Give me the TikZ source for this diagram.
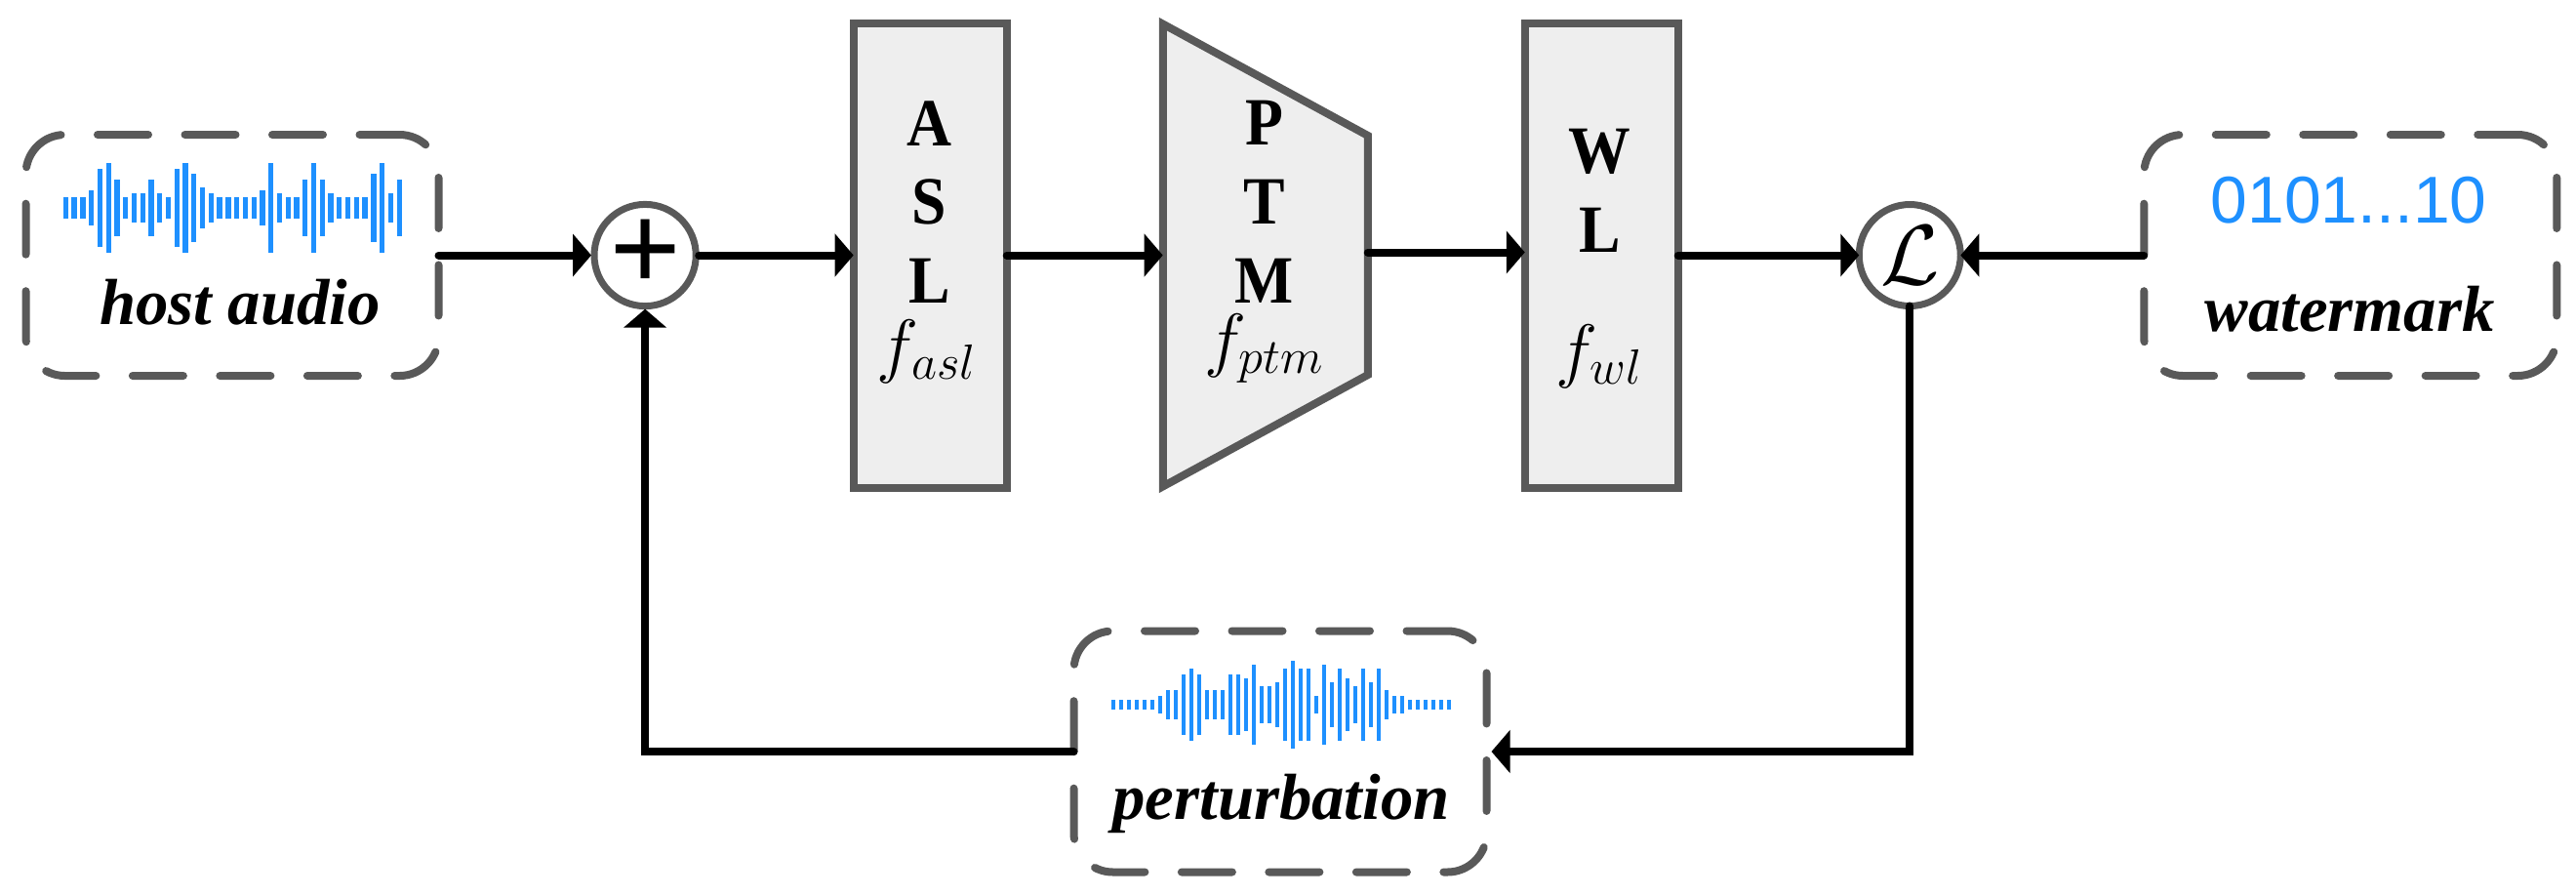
\documentclass[tikz,border=0pt]{standalone}
\usepackage{fontspec}
\setmainfont{Liberation Serif}
\newfontfamily\bitsfont{Liberation Sans}
\newfontfamily\blockfont{Liberation Serif}[FakeStretch=0.92]
\usepackage{tikz}
\usetikzlibrary{shapes.geometric, arrows.meta, positioning}
\definecolor{edgegray}{HTML}{595959}
\definecolor{blockgray}{HTML}{EEEEEE}
\definecolor{wavecol}{HTML}{1E90FF}
\DeclareMathSizes{21}{21}{15.5}{12}
\tikzstyle{dashbox} = [rectangle, rounded corners=0.40cm, draw=edgegray, line width=0.08cm, line cap=round, dash pattern=on 0.52cm off 0.375cm, outer sep=0, minimum width=4.23cm, minimum height=2.47cm]
\tikzstyle{block} = [rectangle, draw=edgegray, fill=blockgray, line width=0.08cm, outer sep=0, minimum width=1.57cm, minimum height=4.76cm]
\tikzstyle{funnel} = [trapezium, trapezium stretches=true, shape border rotate=270, trapezium left angle=65, trapezium right angle=65, draw=edgegray, fill=blockgray, line width=0.08cm, outer sep=0, minimum width=4.74cm, minimum height=2.1cm]
\tikzstyle{joint} = [circle, draw=edgegray, fill=white, line width=0.07cm, inner sep=0, minimum size=1.04cm]
\tikzstyle{arrow} = [line width=0.08cm, line cap=round, black, -{Triangle[length=0.19cm,width=0.43cm]}]
\tikzstyle{letters} = [align=center, inner sep=0, font=\fontsize{19.7}{23}\selectfont\blockfont\bfseries]
\tikzstyle{funcname} = [anchor=base, inner sep=0, font=\fontsize{21}{24}\selectfont]
\tikzstyle{tag} = [anchor=base, inner sep=0, font=\fontsize{19}{22}\selectfont\bfseries\itshape]
\tikzstyle{wavebar} = [fill=wavecol]
\newcommand{\wavebars}[5]{%
  \begin{scope}[x=0.01cm,y=0.01cm]
    \foreach \h [count=\n] in {#5}
      \fill[wavebar] ({#1+(\n-1)*#3-#4/2},{#2-\h}) rectangle ++(#4,{2*\h});
  \end{scope}}

\begin{document}
\begin{tikzpicture}
    \useasboundingbox (0,0) rectangle (26.4,-9.17);
    % Nodes
    \node (host) [dashbox, dash phase=0.11cm] at (2.38,-2.615) {};
    \node (add) [joint, outer sep=0.03cm, right=1.565cm of host, font=\fontsize{37}{37}\selectfont\bfseries] {+};
    \node (asl) [block, right=1.585cm of add] {};
    \node (ptm) [funnel, right=1.6cm of asl] {};
    \node (wl) [block, right=1.61cm of ptm] {};
    \node (loss) [joint, outer sep=0, right=1.855cm of wl, font=\fontsize{24}{24}\selectfont] {$\mathcal{L}$};
    \node (mark) [dashbox, dash phase=0.11cm, right=1.88cm of loss] {};
    \node (pert) [dashbox, dash phase=0.10cm] at (13.12,-7.70) {};

    % Labels
    \node (asltext) [letters] at (9.525,-2.07) {A\\S\\L};
    \node (aslfunc) [funcname] at (9.50,-3.78) {$f_{asl}$};
    \node (ptmtext) [letters] at (12.96,-2.07) {P\\T\\M};
    \node (ptmfunc) [funcname] at (12.96,-3.72) {$f_{ptm}$};
    \node (wltext) [letters] at (16.395,-1.955) {W\\L};
    \node (wlfunc) [funcname] at (16.395,-3.83) {$f_{wl}$};
    \node (hosttext) [tag] at (2.46,-3.32) {host audio};
    \node (marktext) [tag] at (24.08,-3.39) {watermark};
    \node (perttext) [tag] at (13.13,-8.39) {perturbation};
    \node (bits) [anchor=base, inner sep=0, text=wavecol, font=\fontsize{19.3}{22}\selectfont\bitsfont] at (24.07,-2.28) {0101...10};

    % Waveforms
    \wavebars{67.4}{-213}{8.77}{5.3}{11,11,11,18,40,46,29,11,15,15,29,15,11,40,46,35,21,15,11,11,11,11,11,18,46,15,11,11,29,46,29,15,11,11,11,11,35,46,15,29}
    \wavebars{1142}{-722}{8}{4}{5,5,5,5,5,5,9,15,15,31,37,31,15,15,15,31,31,27,41,19,19,23,37,45,37,37,9,41,23,37,27,19,37,23,37,15,9,9,5,5,5,5,5,5}

    % Arrows
    \draw [arrow] (host) -- (add);
    \draw [arrow] (add) -- (asl);
    \draw [arrow] (asl) -- (ptm);
    \draw [arrow] ([yshift=0.03cm]ptm.east) -- ([yshift=0.03cm]wl.west);
    \draw [arrow] (wl) -- (loss);
    \draw [arrow] (mark) -- (loss);
    \draw [arrow] (loss.south) |- ([xshift=0.05cm]pert.east);
    \draw [arrow] (pert.west) -| (add.south);
\end{tikzpicture}
\end{document}
